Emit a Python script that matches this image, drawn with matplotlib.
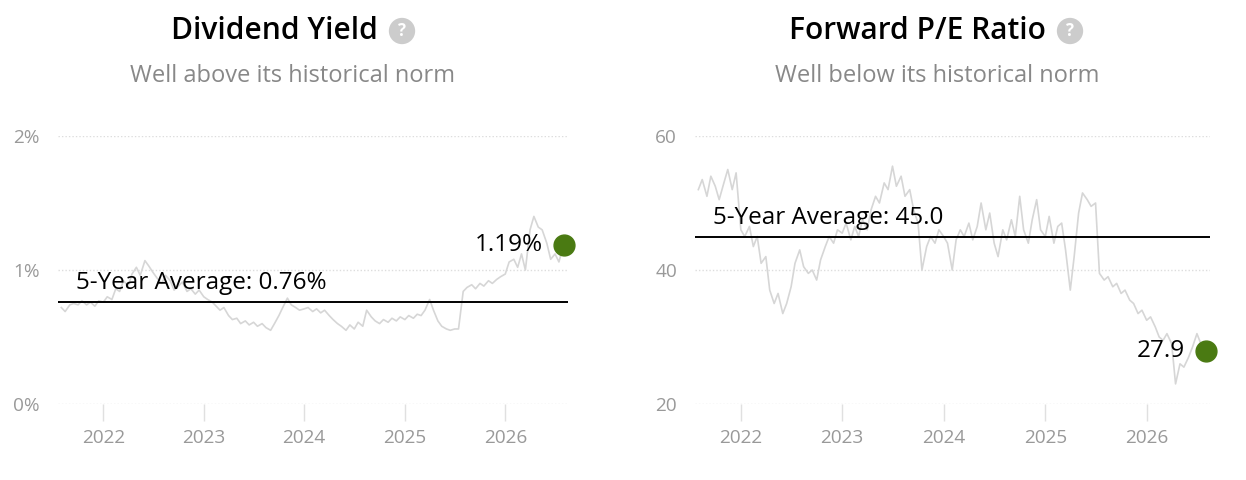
import matplotlib
matplotlib.use('Agg')
import matplotlib.pyplot as plt
import matplotlib.dates as mdates
import numpy as np
import pandas as pd

# semi-monthly samples, Aug 2021 .. Aug 2026
dates = pd.date_range('2021-08-01', periods=121, freq='SMS')

dividend_yield = [
    0.72, 0.69, 0.74, 0.75, 0.74, 0.77, 0.74, 0.76, 0.73, 0.77,
    0.76, 0.80, 0.78, 0.86, 0.84, 0.92, 0.88, 0.97, 1.02, 0.96, 1.07, 1.03,
    0.98, 0.94, 0.90, 0.96, 0.92, 0.85, 0.88, 0.91, 0.84, 0.86, 0.82, 0.85,
    0.80, 0.78, 0.76, 0.73, 0.70, 0.72, 0.66, 0.63, 0.64, 0.60, 0.62, 0.59,
    0.61, 0.58, 0.60, 0.57, 0.55, 0.60, 0.66, 0.72, 0.79, 0.74, 0.72, 0.70,
    0.71, 0.72, 0.69, 0.71, 0.68, 0.70, 0.66, 0.63, 0.60, 0.58, 0.55, 0.59,
    0.56, 0.61, 0.58, 0.70, 0.65, 0.62, 0.60, 0.63, 0.61, 0.64, 0.62, 0.65,
    0.63, 0.66, 0.64, 0.67, 0.66, 0.70, 0.78, 0.70, 0.62, 0.58, 0.56, 0.55,
    0.56, 0.56, 0.84, 0.87, 0.89, 0.86, 0.90, 0.88, 0.92, 0.90, 0.93, 0.95,
    0.97, 1.06, 1.08, 1.02, 1.12, 1.00, 1.30, 1.40, 1.32, 1.30, 1.20, 1.08,
    1.12, 1.06, 1.19,
]

forward_pe = [
    52.0, 53.5, 51.0, 54.0, 52.5, 50.5, 53.0, 55.0, 52.0, 54.5,
    46.0, 45.0, 46.5, 43.5, 45.0, 41.0, 42.0, 37.0, 35.0, 36.5, 33.5, 35.0,
    37.5, 41.0, 43.0, 40.5, 39.5, 40.0, 38.5, 41.5, 43.5, 45.0, 44.0, 46.0,
    45.5, 47.0, 44.5, 46.5, 45.0, 47.5, 46.0, 49.0, 51.0, 50.0, 53.0, 52.0,
    55.5, 52.5, 54.0, 51.0, 52.0, 49.0, 47.0, 40.0, 43.5, 45.0, 44.0, 46.0,
    45.0, 44.0, 40.0, 44.5, 46.0, 45.0, 47.0, 44.5, 46.5, 50.0, 46.0, 48.5,
    44.0, 42.0, 46.0, 44.5, 47.5, 45.0, 51.0, 46.0, 44.0, 47.5, 50.5, 46.0,
    45.0, 48.0, 44.0, 46.5, 47.0, 43.0, 37.0, 42.0, 48.5, 51.5, 50.5, 49.5,
    50.0, 39.5, 38.5, 39.0, 37.5, 38.0, 36.5, 37.0, 35.5, 35.0, 33.5, 34.0,
    32.5, 33.0, 31.5, 30.0, 29.5, 30.5, 29.0, 23.0, 26.0, 25.5, 27.0, 28.5,
    30.5, 29.0, 27.9,
]

panels = [
    dict(title='Dividend Yield', subtitle='Well above its historical norm',
         values=dividend_yield, avg=0.76, avg_label='5-Year Average: 0.76%',
         last_label='1.19%', yticks=[0, 1, 2], yticklabels=['0%', '1%', '2%'],
         ylim=(0, 2), rect=[58, 568], title_x=274, icon_x=402, center=293),
    dict(title='Forward P/E Ratio', subtitle='Well below its historical norm',
         values=forward_pe, avg=45.0, avg_label='5-Year Average: 45.0',
         last_label='27.9', yticks=[20, 40, 60], yticklabels=['20', '40', '60'],
         ylim=(20, 60), rect=[695, 1210], title_x=917, icon_x=1070, center=937),
]

W, H = 1246, 480
plt.rcParams['font.family'] = ['Open Sans', 'DejaVu Sans']
fig = plt.figure(figsize=(W / 100, H / 100), dpi=100)

grid_c = '#dddddd'
line_c = '#d6d6d6'
tick_c = '#999999'
dot_c = '#4a7a12'

for p in panels:
    x0, x1 = p['rect']
    ax = fig.add_axes([x0 / W, 1 - 404 / H, (x1 - x0) / W, (404 - 136) / H])
    ax.plot(dates, p['values'], color=line_c, lw=1.2, zorder=2)
    ax.axhline(p['avg'], color='black', lw=1.4, zorder=3)
    ax.plot(dates[-1], p['values'][-1], 'o', color=dot_c, ms=15, zorder=4, clip_on=False)

    ax.set_ylim(*p['ylim'])
    ax.set_xlim(pd.Timestamp('2021-07-20'), pd.Timestamp('2026-08-17'))
    ax.set_yticks(p['yticks'])
    ax.set_yticklabels(p['yticklabels'])
    for yv in p['yticks']:
        ax.axhline(yv, color=grid_c, lw=1, ls=(0, (1, 1.5)), zorder=1)

    ax.xaxis.set_major_locator(mdates.YearLocator())
    ax.xaxis.set_major_formatter(mdates.DateFormatter('%Y'))
    ax.tick_params(axis='x', length=12, width=1, color='#e0e0e0', pad=6,
                   labelsize=13.7, labelcolor=tick_c)
    ax.tick_params(axis='y', length=0, pad=13, labelsize=13.7, labelcolor=tick_c)
    for s in ax.spines.values():
        s.set_visible(False)

    ax.annotate(p['avg_label'], xy=(0.035, p['avg']),
                xycoords=('axes fraction', 'data'), xytext=(0, 5),
                textcoords='offset points', fontsize=17.5, color='black',
                ha='left', va='bottom')
    ax.annotate(p['last_label'], xy=(dates[-1], p['values'][-1]),
                xytext=(-15, 0), textcoords='offset points', fontsize=17.5,
                color='black', ha='right', va='center')

    fig.text(p['title_x'] / W, 1 - 31 / H, p['title'], fontsize=21.5,
             fontweight='semibold', ha='center', va='center')
    fig.text(p['icon_x'] / W, 1 - 31 / H, '?', fontsize=12, fontweight='bold',
             color='white', ha='center', va='center',
             bbox=dict(boxstyle='circle,pad=0.25', fc='#cccccc', ec='none'))
    fig.text(p['center'] / W, 1 - 76 / H, p['subtitle'], fontsize=17,
             color='#888888', ha='center', va='center')

fig.savefig('out.png', dpi=100)
